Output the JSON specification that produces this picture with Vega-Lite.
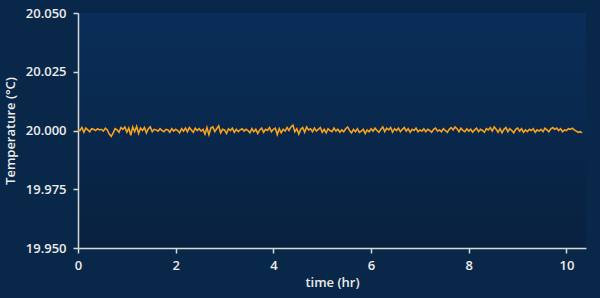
{
  "$schema": "https://vega.github.io/schema/vega-lite/v6.json",
  "width": 508,
  "height": 235,
  "autosize": {"type": "none"},
  "padding": {"left": 78, "top": 13, "right": 14, "bottom": 50},
  "background": "#092748",
  "config": {
    "view": {"stroke": null, "fill": {"gradient": "linear", "x1": 0, "y1": 0, "x2": 0, "y2": 1, "stops": [{"offset": 0, "color": "#0a2e59"}, {"offset": 1, "color": "#08213f"}]}},
    "font": "Open Sans",
    "axis": {
      "domainColor": "#d8d8d8", "domainWidth": 1.5, "tickColor": "#d8d8d8", "tickWidth": 1.5, "tickSize": 5,
      "labelColor": "#ececec", "labelFont": "Open Sans", "labelFontSize": 13, "labelFontWeight": 600, "labelFlush": false,
      "titleColor": "#ececec", "titleFont": "Open Sans", "titleFontSize": 13, "titleFontWeight": 600,
      "grid": false
    }
  },
  "data": {"values": [
{"t":0.00,"v":20.0005},{"t":0.04,"v":20},{"t":0.08,"v":20.00125},{"t":0.12,"v":19.99925},{"t":0.16,"v":20.001},{"t":0.20,"v":20.00025},{"t":0.24,"v":19.9995},{"t":0.28,"v":20.00075},{"t":0.32,"v":20.0005},{"t":0.36,"v":20},
{"t":0.40,"v":20.00075},{"t":0.44,"v":20.00025},{"t":0.48,"v":20.0005},{"t":0.52,"v":19.99975},{"t":0.56,"v":20.001},{"t":0.60,"v":20.00025},{"t":0.64,"v":19.9985},{"t":0.68,"v":19.9975},{"t":0.72,"v":19.999},{"t":0.76,"v":20.00075},
{"t":0.80,"v":20.00025},{"t":0.84,"v":19.99925},{"t":0.88,"v":20.00125},{"t":0.92,"v":20.0005},{"t":0.96,"v":20.0015},{"t":1.00,"v":19.99925},{"t":1.04,"v":20.001},{"t":1.08,"v":19.998},{"t":1.12,"v":20.0015},{"t":1.16,"v":19.9995},
{"t":1.20,"v":20.00175},{"t":1.24,"v":19.99875},{"t":1.28,"v":20.001},{"t":1.32,"v":20},{"t":1.36,"v":20.00125},{"t":1.40,"v":19.999},{"t":1.44,"v":20.00075},{"t":1.48,"v":20.0015},{"t":1.52,"v":19.9995},{"t":1.56,"v":20.0005},
{"t":1.60,"v":20.00025},{"t":1.64,"v":19.99975},{"t":1.68,"v":20.00075},{"t":1.72,"v":20},{"t":1.76,"v":19.9995},{"t":1.80,"v":20.0005},{"t":1.84,"v":20.00025},{"t":1.88,"v":19.99925},{"t":1.92,"v":20.00075},{"t":1.96,"v":19.99975},
{"t":2.00,"v":20.0005},{"t":2.04,"v":20},{"t":2.08,"v":19.999},{"t":2.12,"v":20.00075},{"t":2.16,"v":19.99975},{"t":2.20,"v":20.001},{"t":2.24,"v":19.9995},{"t":2.28,"v":20.00125},{"t":2.32,"v":20.00025},{"t":2.36,"v":19.99925},
{"t":2.40,"v":20.001},{"t":2.44,"v":20},{"t":2.48,"v":20.00075},{"t":2.52,"v":19.99975},{"t":2.56,"v":20.0005},{"t":2.60,"v":19.9985},{"t":2.64,"v":20.00125},{"t":2.68,"v":19.99825},{"t":2.72,"v":20.001},{"t":2.76,"v":20.0015},
{"t":2.80,"v":19.9995},{"t":2.84,"v":20.00075},{"t":2.88,"v":20.002},{"t":2.92,"v":19.999},{"t":2.96,"v":20.0005},{"t":3.00,"v":20.00025},{"t":3.04,"v":19.99875},{"t":3.08,"v":20.00075},{"t":3.12,"v":20},{"t":3.16,"v":20.001},
{"t":3.20,"v":19.99925},{"t":3.24,"v":20.0005},{"t":3.28,"v":19.9995},{"t":3.32,"v":20.00025},{"t":3.36,"v":20.00075},{"t":3.40,"v":19.99975},{"t":3.44,"v":20.0005},{"t":3.48,"v":20},{"t":3.52,"v":19.999},{"t":3.56,"v":20.00075},
{"t":3.60,"v":19.9995},{"t":3.64,"v":20.0005},{"t":3.68,"v":19.99875},{"t":3.72,"v":20.00025},{"t":3.76,"v":20.001},{"t":3.80,"v":19.99925},{"t":3.84,"v":20.0005},{"t":3.88,"v":20},{"t":3.92,"v":20.00125},{"t":3.96,"v":19.9995},
{"t":4.00,"v":20.0005},{"t":4.04,"v":20.001},{"t":4.08,"v":19.99825},{"t":4.12,"v":20.00075},{"t":4.16,"v":19.999},{"t":4.20,"v":20.0005},{"t":4.24,"v":19.99975},{"t":4.28,"v":20.00125},{"t":4.32,"v":20},{"t":4.36,"v":20.0015},
{"t":4.40,"v":20.00225},{"t":4.44,"v":19.9995},{"t":4.48,"v":20.00075},{"t":4.52,"v":19.9985},{"t":4.56,"v":20.0005},{"t":4.60,"v":20.00125},{"t":4.64,"v":19.99925},{"t":4.68,"v":20.0015},{"t":4.72,"v":20.00025},{"t":4.76,"v":20.00075},
{"t":4.80,"v":19.9995},{"t":4.84,"v":20.001},{"t":4.88,"v":19.99975},{"t":4.92,"v":20.0005},{"t":4.96,"v":20.00125},{"t":5.00,"v":19.99925},{"t":5.04,"v":20.0005},{"t":5.08,"v":19.999},{"t":5.12,"v":20.00075},{"t":5.16,"v":20},
{"t":5.20,"v":19.9995},{"t":5.24,"v":20.001},{"t":5.28,"v":19.99975},{"t":5.32,"v":20.0005},{"t":5.36,"v":19.99925},{"t":5.40,"v":20.00025},{"t":5.44,"v":19.9995},{"t":5.48,"v":20.00075},{"t":5.52,"v":20.0015},{"t":5.56,"v":20},
{"t":5.60,"v":19.999},{"t":5.64,"v":20.0005},{"t":5.68,"v":19.9995},{"t":5.72,"v":20.00075},{"t":5.76,"v":19.99925},{"t":5.80,"v":19.99975},{"t":5.84,"v":20.0005},{"t":5.88,"v":19.99875},{"t":5.92,"v":20.00025},{"t":5.96,"v":19.9995},
{"t":6.00,"v":20.00075},{"t":6.04,"v":19.99975},{"t":6.08,"v":20.001},{"t":6.12,"v":20},{"t":6.16,"v":19.99925},{"t":6.20,"v":20.0005},{"t":6.24,"v":20.0015},{"t":6.28,"v":19.9995},{"t":6.32,"v":20.001},{"t":6.36,"v":20.00025},
{"t":6.40,"v":20.00125},{"t":6.44,"v":19.99925},{"t":6.48,"v":20.00075},{"t":6.52,"v":20},{"t":6.56,"v":20.001},{"t":6.60,"v":19.9995},{"t":6.64,"v":20.0005},{"t":6.68,"v":20.00125},{"t":6.72,"v":19.99975},{"t":6.76,"v":20.00075},
{"t":6.80,"v":19.99925},{"t":6.84,"v":20.0005},{"t":6.88,"v":20},{"t":6.92,"v":20.001},{"t":6.96,"v":19.9995},{"t":7.00,"v":20.00025},{"t":7.04,"v":19.99975},{"t":7.08,"v":20.00075},{"t":7.12,"v":19.9995},{"t":7.16,"v":20.0005},
{"t":7.20,"v":20},{"t":7.24,"v":19.99925},{"t":7.28,"v":20.0005},{"t":7.32,"v":20.001},{"t":7.36,"v":19.99975},{"t":7.40,"v":20.00025},{"t":7.44,"v":19.9995},{"t":7.48,"v":20.00075},{"t":7.52,"v":20},{"t":7.56,"v":19.99925},
{"t":7.60,"v":20.0005},{"t":7.64,"v":20.00125},{"t":7.68,"v":20.00025},{"t":7.72,"v":20.0015},{"t":7.76,"v":20.00075},{"t":7.80,"v":19.9995},{"t":7.84,"v":20.001},{"t":7.88,"v":20},{"t":7.92,"v":19.9995},{"t":7.96,"v":20.00075},
{"t":8.00,"v":19.99975},{"t":8.04,"v":20.0005},{"t":8.08,"v":19.99925},{"t":8.12,"v":20.00025},{"t":8.16,"v":20.001},{"t":8.20,"v":19.9995},{"t":8.24,"v":20.0005},{"t":8.28,"v":20},{"t":8.32,"v":19.99925},{"t":8.36,"v":20.00075},
{"t":8.40,"v":20.00025},{"t":8.44,"v":20.00125},{"t":8.48,"v":19.99975},{"t":8.52,"v":20.0015},{"t":8.56,"v":20.0005},{"t":8.60,"v":19.99925},{"t":8.64,"v":20.00075},{"t":8.68,"v":19.999},{"t":8.72,"v":20.0005},{"t":8.76,"v":20.00125},
{"t":8.80,"v":19.9995},{"t":8.84,"v":20.00075},{"t":8.88,"v":20},{"t":8.92,"v":19.999},{"t":8.96,"v":20.0005},{"t":9.00,"v":20.001},{"t":9.04,"v":19.99975},{"t":9.08,"v":20.00075},{"t":9.12,"v":19.99925},{"t":9.16,"v":20.00025},
{"t":9.20,"v":19.9995},{"t":9.24,"v":20.0005},{"t":9.28,"v":20},{"t":9.32,"v":20.00075},{"t":9.36,"v":19.99925},{"t":9.40,"v":20.00025},{"t":9.44,"v":19.99975},{"t":9.48,"v":20.0005},{"t":9.52,"v":19.9995},{"t":9.56,"v":20.001},
{"t":9.60,"v":20.00025},{"t":9.64,"v":19.9995},{"t":9.68,"v":20.00075},{"t":9.72,"v":20.00125},{"t":9.76,"v":20.0005},{"t":9.80,"v":20.001},{"t":9.84,"v":20},{"t":9.88,"v":20.00075},{"t":9.92,"v":19.9995},{"t":9.96,"v":20.00025},
{"t":10.00,"v":20},{"t":10.04,"v":20.00075},{"t":10.08,"v":20.0005},{"t":10.12,"v":20.001},{"t":10.16,"v":20.00025},{"t":10.20,"v":19.99975},{"t":10.24,"v":19.99925},{"t":10.28,"v":19.9995},{"t":10.32,"v":19.999}
  ]},
  "mark": {"type": "line", "color": "#f6a21f", "strokeWidth": 1.6, "interpolate": "linear"},
  "encoding": {
    "x": {"field": "t", "type": "quantitative", "title": "time (hr)",
      "scale": {"domain": [0, 10.4], "nice": false, "zero": false},
      "axis": {"values": [0, 2, 4, 6, 8, 10], "labelPadding": 6, "titlePadding": 4}},
    "y": {"field": "v", "type": "quantitative", "title": "Temperature (°C)",
      "scale": {"domain": [19.95, 20.05], "nice": false, "zero": false},
      "axis": {"values": [19.95, 19.975, 20, 20.025, 20.05], "format": ".3f", "labelPadding": 7, "titlePadding": 8}}
  }
}
